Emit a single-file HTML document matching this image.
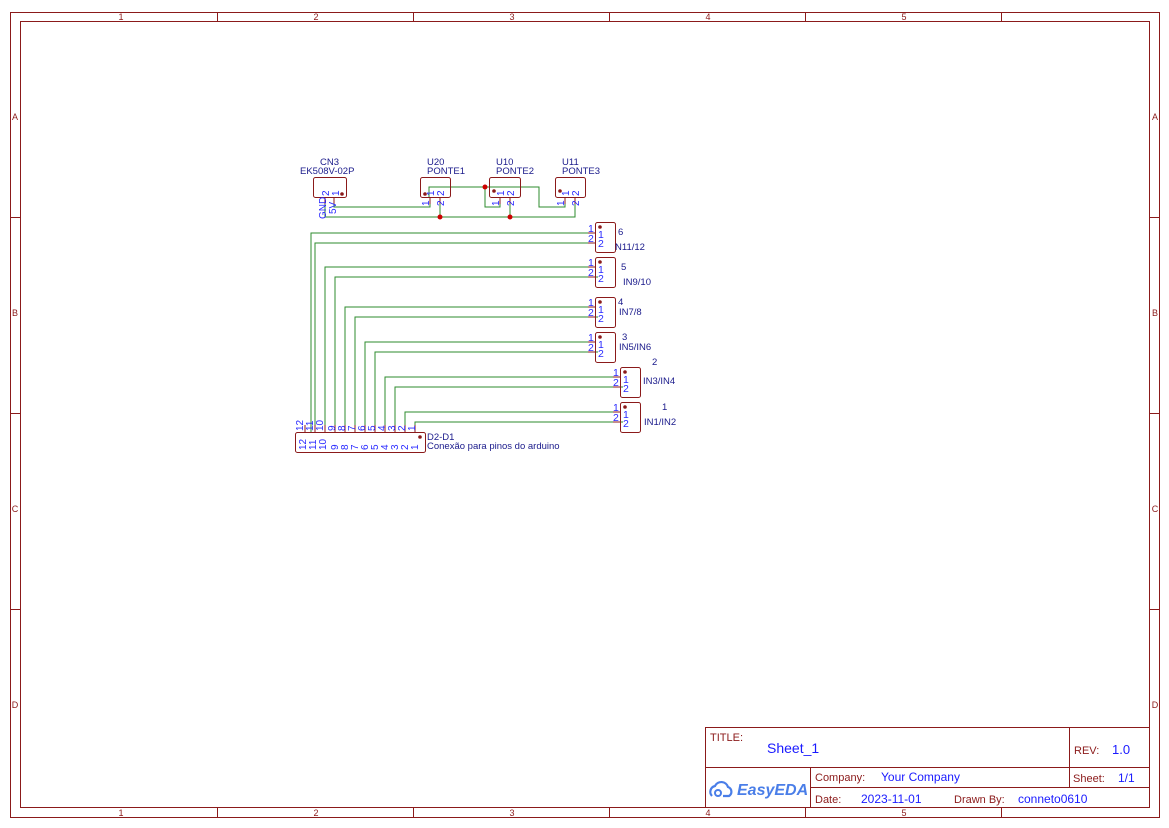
<!DOCTYPE html>
<html><head><meta charset="utf-8"><style>
html,body{margin:0;padding:0;background:#fff}
svg{display:block}
text{font-family:"Liberation Sans",sans-serif}
</style></head><body>
<svg width="1169" height="828" viewBox="0 0 1169 828" xmlns="http://www.w3.org/2000/svg">
<g fill="none" stroke="#8b1a1a" stroke-width="1">
<rect x="10.5" y="12.5" width="1149" height="805"/>
<rect x="20.5" y="21.5" width="1129" height="786"/>
<path d="M217.5 12v9M413.5 12v9M609.5 12v9M805.5 12v9M1001.5 12v9M217.5 808v9M413.5 808v9M609.5 808v9M805.5 808v9M1001.5 808v9"/>
<path d="M10 217.5h10M10 413.5h10M10 609.5h10M1150 217.5h10M1150 413.5h10M1150 609.5h10"/>
<rect x="705.5" y="727.5" width="444" height="80"/>
<path d="M705 767.5h444M810 787.5h339M810.5 767v40M1069.5 727v60"/>
</g>
<g fill="#8b1a1a" font-size="9" text-anchor="middle">
<text x="121" y="20">1</text><text x="316" y="20">2</text><text x="512" y="20">3</text><text x="708" y="20">4</text><text x="904" y="20">5</text>
<text x="121" y="816">1</text><text x="316" y="816">2</text><text x="512" y="816">3</text><text x="708" y="816">4</text><text x="904" y="816">5</text>
<text x="15" y="120">A</text><text x="15" y="316">B</text><text x="15" y="512">C</text><text x="15" y="708">D</text>
<text x="1155" y="120">A</text><text x="1155" y="316">B</text><text x="1155" y="512">C</text><text x="1155" y="708">D</text>
</g>
<g font-size="11">
<text x="710" y="741" fill="#8b1a1a">TITLE:</text>
<text x="767" y="753" fill="#1a1aff" font-size="14">Sheet_1</text>
<text x="1074" y="754" fill="#8b1a1a">REV:</text>
<text x="1112" y="754" fill="#1a1aff" font-size="13">1.0</text>
<text x="815" y="781" fill="#8b1a1a">Company:</text>
<text x="881" y="781" fill="#1a1aff" font-size="12">Your Company</text>
<text x="1073" y="782" fill="#8b1a1a">Sheet:</text>
<text x="1118" y="782" fill="#1a1aff" font-size="12">1/1</text>
<text x="815" y="803" fill="#8b1a1a">Date:</text>
<text x="861" y="803" fill="#1a1aff" font-size="12">2023-11-01</text>
<text x="954" y="803" fill="#8b1a1a">Drawn By:</text>
<text x="1018" y="803" fill="#1a1aff" font-size="12">conneto0610</text>
<text x="737" y="795" fill="#4a7ee8" font-size="16" font-weight="bold" font-style="italic">EasyEDA</text>
</g>
<path d="M712 796a6 6 0 0 1 3-10a7 7 0 0 1 13 1a5 5 0 0 1 1 9h-6" fill="none" stroke="#4a7ee8" stroke-width="2.2"/>
<circle cx="718" cy="793" r="3" fill="none" stroke="#4a7ee8" stroke-width="2"/>

<g fill="none" stroke="#2e8b2e" stroke-width="1">
<path d="M334 197v10h96v-10"/>
<path d="M325 197v20h250v-20"/>
<path d="M440 197v20M510 197v20M500 197v10h-15v-20M429 197v-10h110v20h26v-10"/>
<path d="M311 432V233h277M315 432V243h277"/>
<path d="M325 432V267h263M335 432V277h263"/>
<path d="M345 432V307h243M355 432V317h243"/>
<path d="M365 432V342h223M375 432V352h223"/>
<path d="M385 432V377h228M395 432V387h228"/>
<path d="M405 432V412h208M415 432V422h208"/>
</g>
<g fill="#c00">
<circle cx="440" cy="217" r="2.5"/><circle cx="510" cy="217" r="2.5"/><circle cx="485" cy="187" r="2.5"/>
</g>
<g fill="none" stroke="#8b1a1a" stroke-width="1">
<rect x="313.5" y="177.5" width="33" height="20" rx="2"/>
<rect x="420.5" y="177.5" width="30" height="20" rx="2"/>
<rect x="489.5" y="177.5" width="31" height="20" rx="2"/>
<rect x="555.5" y="177.5" width="30" height="20" rx="2"/>
<rect x="595.5" y="222.5" width="20" height="30" rx="2"/>
<rect x="595.5" y="257.5" width="20" height="30" rx="2"/>
<rect x="595.5" y="297.5" width="20" height="30" rx="2"/>
<rect x="595.5" y="332.5" width="20" height="30" rx="2"/>
<rect x="620.5" y="367.5" width="20" height="30" rx="2"/>
<rect x="620.5" y="402.5" width="20" height="30" rx="2"/>
<rect x="295.5" y="432.5" width="130" height="20" rx="2"/>
<path d="M588 233h7M588 243h7M588 267h7M588 277h7M588 307h7M588 317h7M588 342h7M588 352h7M613 377h7M613 387h7M613 412h7M613 422h7"/>
<path d="M305 425v7M315 425v7M325 425v7M335 425v7M345 425v7M355 425v7M365 425v7M375 425v7M385 425v7M395 425v7M405 425v7M415 425v7"/>
<path d="M325 197v7M334 197v7M430 197v7M440 197v7M500 197v7M510 197v7M565 197v7M575 197v7"/>
</g>
<g fill="#8b1a1a">
<circle cx="342" cy="194" r="1.8"/><circle cx="425" cy="194" r="1.8"/><circle cx="494" cy="191" r="1.8"/><circle cx="560" cy="191" r="1.8"/>
<circle cx="600" cy="227" r="1.8"/><circle cx="600" cy="262" r="1.8"/><circle cx="600" cy="302" r="1.8"/><circle cx="600" cy="337" r="1.8"/>
<circle cx="625" cy="372" r="1.8"/><circle cx="625" cy="407" r="1.8"/><circle cx="420" cy="437" r="1.8"/>
</g>
<g fill="#1a1a8b" font-size="9.5">
<text x="320" y="165">CN3</text><text x="300" y="174">EK508V-02P</text>
<text x="427" y="165">U20</text><text x="427" y="174">PONTE1</text>
<text x="496" y="165">U10</text><text x="496" y="174">PONTE2</text>
<text x="562" y="165">U11</text><text x="562" y="174">PONTE3</text>
<text x="618" y="235">6</text><text x="615" y="250">N11/12</text>
<text x="621" y="270">5</text><text x="623" y="285">IN9/10</text>
<text x="618" y="305">4</text><text x="619" y="315">IN7/8</text>
<text x="622" y="340">3</text><text x="619" y="350">IN5/IN6</text>
<text x="652" y="365">2</text><text x="643" y="384">IN3/IN4</text>
<text x="662" y="410">1</text><text x="644" y="425">IN1/IN2</text>
<text x="427" y="440">D2-D1</text><text x="427" y="449">Conexão para pinos do arduino</text>
</g>
<g fill="#2a2aff" font-size="10.5">
<text x="598" y="238">1</text><text x="598" y="247">2</text><text x="588" y="232">1</text><text x="588" y="242">2</text>
<text x="598" y="273">1</text><text x="598" y="282">2</text><text x="588" y="266">1</text><text x="588" y="276">2</text>
<text x="598" y="313">1</text><text x="598" y="322">2</text><text x="588" y="306">1</text><text x="588" y="316">2</text>
<text x="598" y="348">1</text><text x="598" y="357">2</text><text x="588" y="341">1</text><text x="588" y="351">2</text>
<text x="623" y="383">1</text><text x="623" y="392">2</text><text x="613" y="376">1</text><text x="613" y="386">2</text>
<text x="623" y="418">1</text><text x="623" y="427">2</text><text x="613" y="411">1</text><text x="613" y="421">2</text>
</g>
<g fill="#2a2aff" font-size="10">
<g transform="rotate(-90)">
<text x="-196" y="329">2</text><text x="-196" y="339">1</text>
<text x="-196" y="434">1</text><text x="-196" y="444">2</text>
<text x="-196" y="504">1</text><text x="-196" y="514">2</text>
<text x="-196" y="569">1</text><text x="-196" y="579">2</text>
<text x="-206" y="429">1</text><text x="-206" y="444">2</text>
<text x="-206" y="499">1</text><text x="-206" y="514">2</text>
<text x="-206" y="564">1</text><text x="-206" y="579">2</text>
<text x="-219" y="326">GND</text><text x="-214" y="336">5V</text>
</g>
<g transform="rotate(-90)">
<text x="-450" y="306">12</text><text x="-450" y="316">11</text><text x="-450" y="326">10</text><text x="-450" y="338">9</text><text x="-450" y="348">8</text><text x="-450" y="358">7</text><text x="-450" y="368">6</text><text x="-450" y="378">5</text><text x="-450" y="388">4</text><text x="-450" y="398">3</text><text x="-450" y="408">2</text><text x="-450" y="418">1</text>
<text x="-431" y="303">12</text><text x="-431" y="313">11</text><text x="-431" y="323">10</text><text x="-431" y="335">9</text><text x="-431" y="345">8</text><text x="-431" y="355">7</text><text x="-431" y="365">6</text><text x="-431" y="375">5</text><text x="-431" y="385">4</text><text x="-431" y="395">3</text><text x="-431" y="405">2</text><text x="-431" y="415">1</text>
</g>
</g>
</svg>
</body></html>
